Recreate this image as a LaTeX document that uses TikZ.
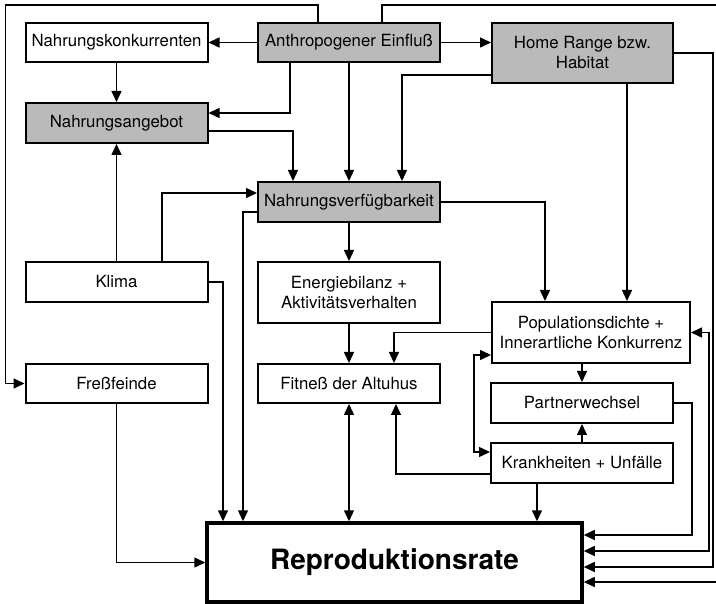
\documentclass[tikz,border=0pt]{standalone}
\usepackage{fontspec}
\setmainfont{TeX Gyre Heros}
\usetikzlibrary{arrows.meta}

\begin{document}
\begin{tikzpicture}[x=1pt, y=-1pt,
  box/.style={draw, line width=2pt, minimum width=182pt, minimum height=40pt, inner sep=1pt, align=center, font=\fontsize{16.8}{20}\selectfont},
  grey/.style={box, fill=black!27},
  arr/.style={line width=1.5pt, -{Triangle[length=11pt, width=10pt]}},
  darr/.style={line width=1.5pt, {Triangle[length=11pt, width=10pt]}-{Triangle[length=11pt, width=10pt]}}]
  \useasboundingbox (0,0) rectangle (716,604);
  \node[box] (konk) at (116.5,42.5) [minimum height=39pt] {Nahrungskonkurrenten};
  \node[grey] (anthro) at (349,42.5) [minimum height=39pt] {Anthropogener Einfluß};
  \node[grey] (home) at (582.5,53) [minimum width=181pt, minimum height=60pt] {Home Range bzw.\\Habitat};
  \node[grey] (angebot) at (116.5,123) {Nahrungsangebot};
  \node[grey] (verf) at (349,202) {Nahrungsverfügbarkeit};
  \node[box] (klima) at (116.5,282) {Klima};
  \node[box] (energie) at (349,292.5) [minimum height=61pt] {Energiebilanz +\\Aktivitätsverhalten};
  \node[box] (fitness) at (349,383.5) [minimum height=39pt] {Fitneß der Altuhus};
  \node[box] (feinde) at (116.5,383.5) [minimum height=39pt] {Freßfeinde};
  \node[box] (pop) at (591,332.5) [minimum width=198pt, minimum height=61pt] {Populationsdichte +\\Innerartliche Konkurrenz};
  \node[box] (partner) at (582,403) {Partnerwechsel};
  \node[box] (krank) at (582,463) {Krankheiten + Unfälle};
  \node[box, line width=3.5pt, minimum width=375pt, minimum height=79pt, font=\fontsize{28}{32}\selectfont\bfseries] (repro) at (394.5,562.5) {Reproduktionsrate};

  \draw[arr] (anthro) -- (konk);
  \draw[arr] (anthro.east) -- (anthro.east -| home.west);
  \draw[arr] (konk) -- (angebot);
  \draw[arr] ([xshift=-59pt]anthro.south) |- ([yshift=10pt]angebot.east);
  \draw[arr] ([yshift=-8pt]angebot.east) -| ([xshift=-56pt]verf.north);
  \draw[arr] (anthro) -- (verf);
  \draw[arr] ([yshift=-22pt]home.west) -| ([xshift=53pt]verf.north);
  \draw[arr] ([xshift=44.5pt]home.south) -- ([xshift=36pt]pop.north);
  \draw[arr] (home.east) -- ++(39,0) |- ([yshift=-4.5pt]repro.east);
  \draw[arr] ([xshift=-31pt]anthro.north) -- ++(0,-17) -| ([xshift=-19pt]feinde.west) -- (feinde.west);
  \draw[arr] ([xshift=33pt]anthro.north) -- ++(0,-17) -| ([xshift=133pt, yshift=-19.5pt]repro.east) -- ([yshift=-19.5pt]repro.east);
  \draw[arr] (verf) -- (energie);
  \draw[arr] (energie) -- (fitness);
  \draw[darr] (fitness.south) -- (fitness.south |- repro.north);
  \draw[arr] (verf.east) -| ([xshift=-46pt]pop.north);
  \draw[arr] ([yshift=-10pt]verf.west) -| ([xshift=-151.5pt]repro.north);
  \draw[arr] (klima.east) -| ([xshift=-171.5pt]repro.north);
  \draw[arr] (klima) -- (angebot);
  \draw[arr] ([xshift=45.5pt]klima.north) |- ([yshift=9pt]verf.west);
  \draw[arr] (feinde.south) |- (repro.west);
  \draw[arr] (pop.west) -| ([xshift=45pt]fitness.north);
  \draw[arr] ([xshift=-9pt]pop.south) -- (partner.north);
  \draw[arr] (krank) -- (partner);
  \draw[arr] ([yshift=-11pt]krank.west) -| ([xshift=47pt]fitness.south);
  \draw[arr] ([xshift=-45pt]krank.south) -- ([xshift=142.5pt]repro.north);
  \draw[darr] ([yshift=-22.5pt]pop.west) -- ++(-17,0) |- ([yshift=11pt]krank.west);
  \draw[arr] (partner.east) -- ++(18,0) |- ([yshift=27.5pt]repro.east);
  \draw[darr] (pop.east) -- ++(18,0) |- ([yshift=11.5pt]repro.east);
\end{tikzpicture}
\end{document}
